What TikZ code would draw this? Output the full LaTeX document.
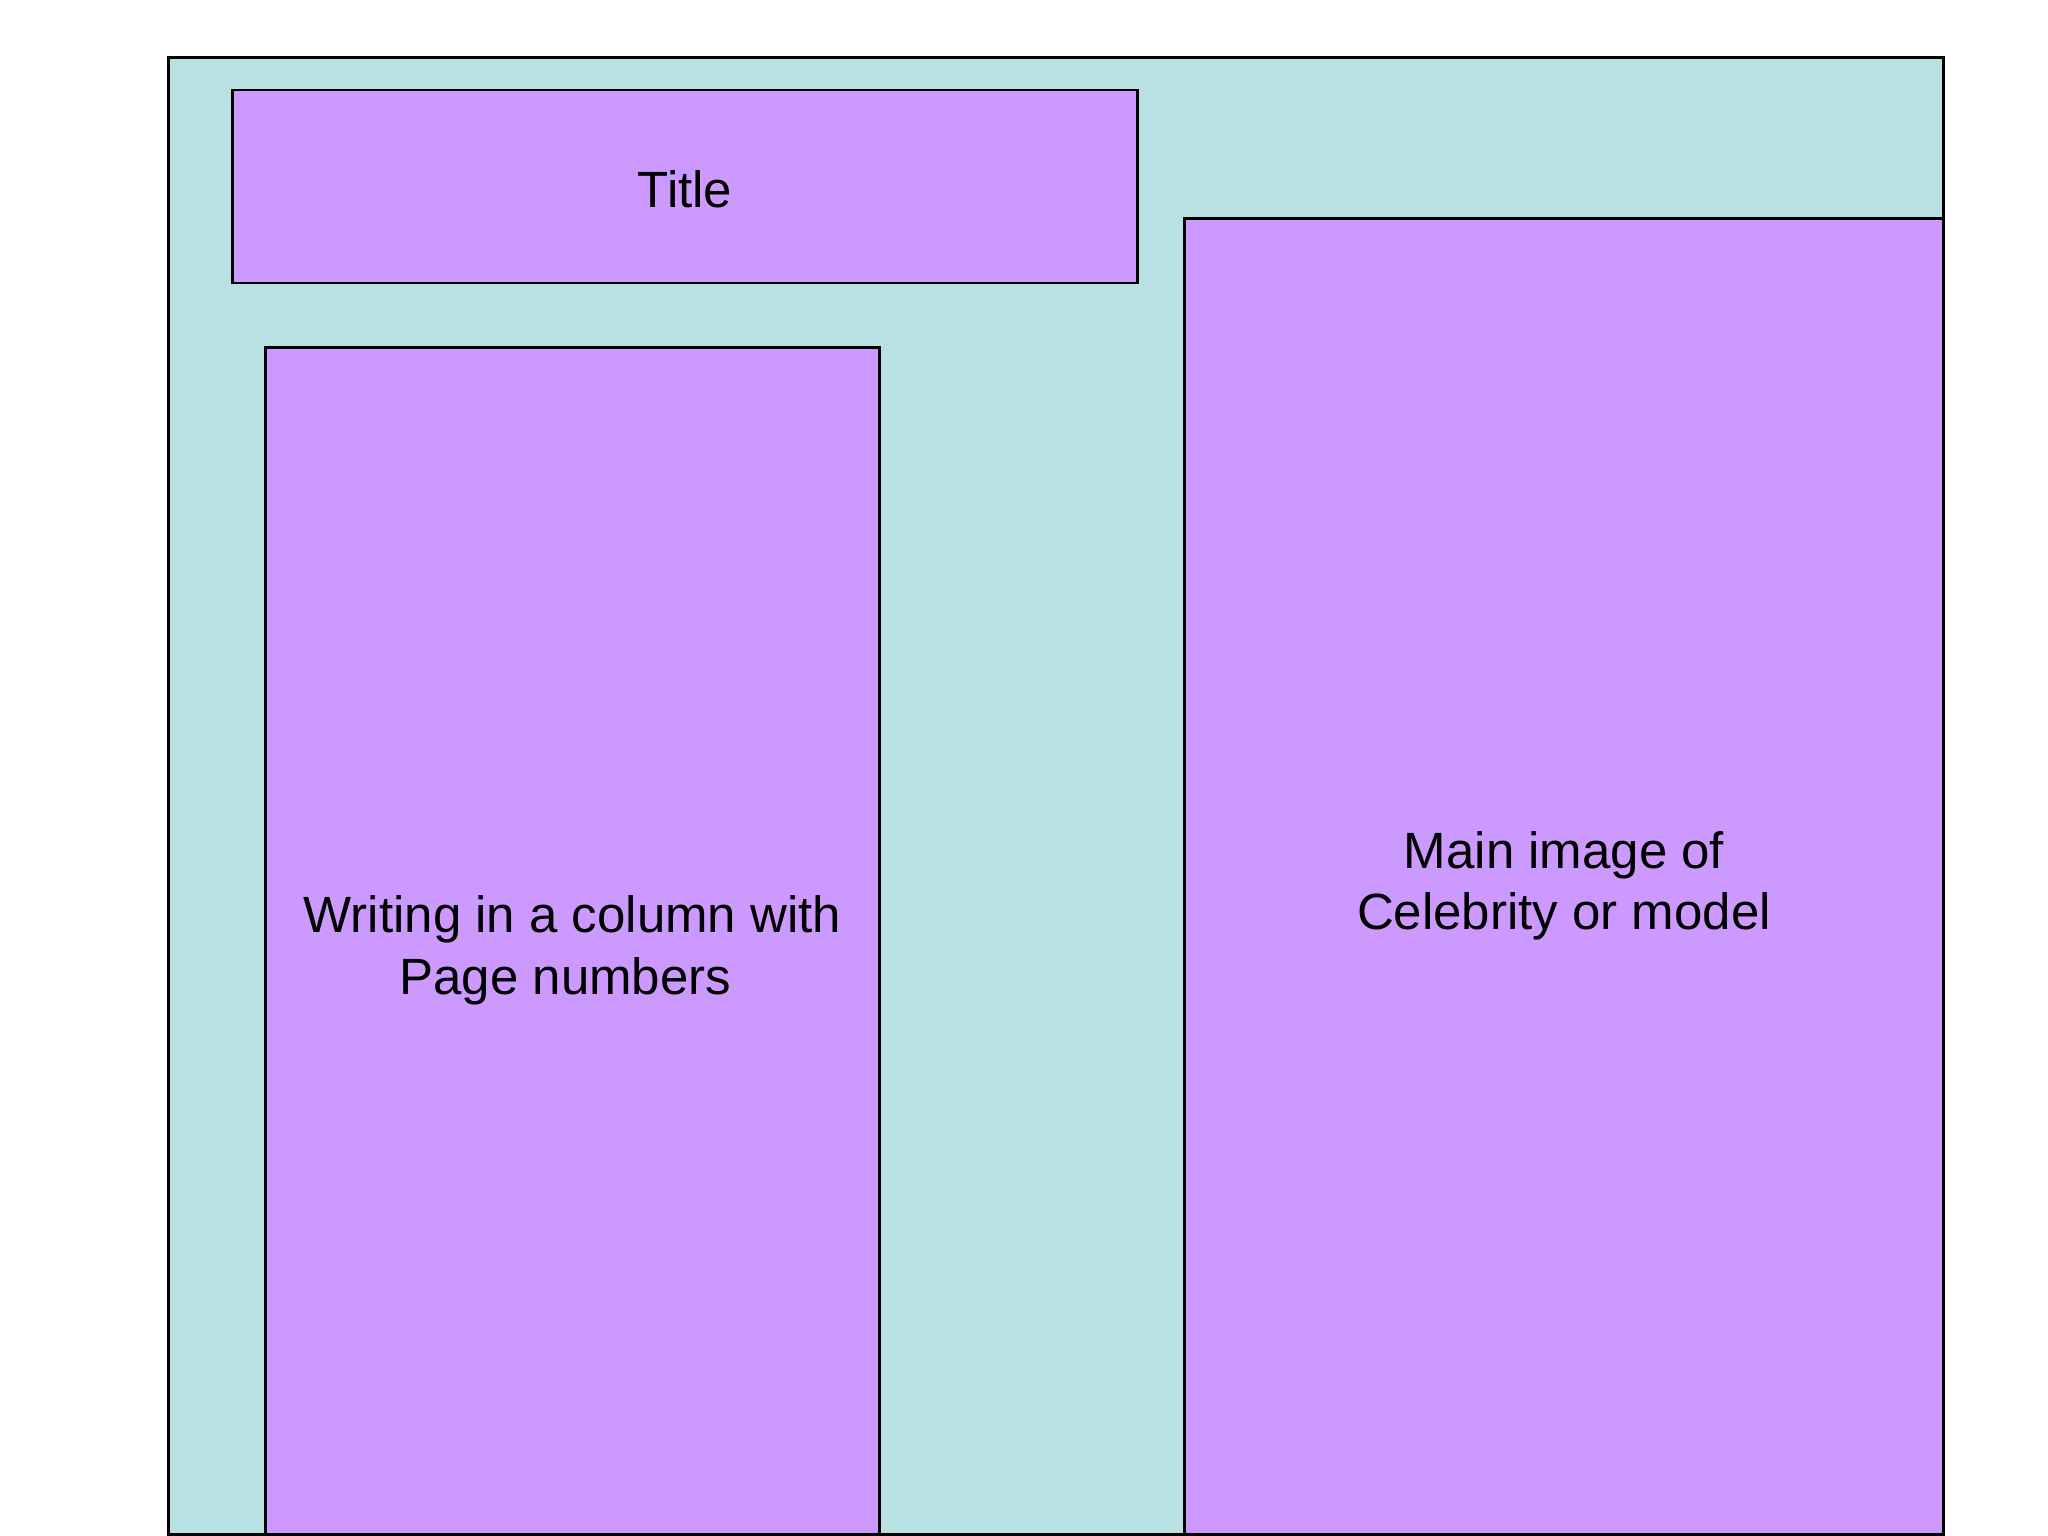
\documentclass[tikz,border=0pt]{standalone}
\usepackage{fontspec}
\setmainfont{Liberation Sans}
\usepackage{xcolor}

\definecolor{pagebg}{HTML}{B9E0E3}
\definecolor{boxfill}{HTML}{CC99FF}

\begin{document}
\begin{tikzpicture}[x=0.01cm, y=-0.01cm,
  every node/.style={font=\fontsize{14.5}{17.4}\selectfont},
  panel/.style={rectangle,draw,line width=0.8pt,fill=boxfill,inner sep=0pt,align=center},
  twolines/.style={text height=33.2pt}]

\useasboundingbox (0,0) rectangle (2048,1536);

% Page
\node[rectangle,draw,line width=0.8pt,fill=pagebg,inner sep=0pt,minimum width=17.74cm,minimum height=14.76cm] at (1056,796) (page) {};

% Title
\node[panel,text height=12pt,minimum width=9.04cm,minimum height=1.93cm] at (685,186.5) (title) {Title};

% Text column
\node[panel,twolines,minimum width=6.13cm,minimum height=11.86cm] at (572.5,941) (column) {Writing in a column with\\Page numbers\hspace*{.28em}};

% Main image
\node[panel,twolines,minimum width=7.58cm,minimum height=13.15cm] at (1564,876.5) (image) {Main image of\\Celebrity or model};

\end{tikzpicture}
\end{document}
